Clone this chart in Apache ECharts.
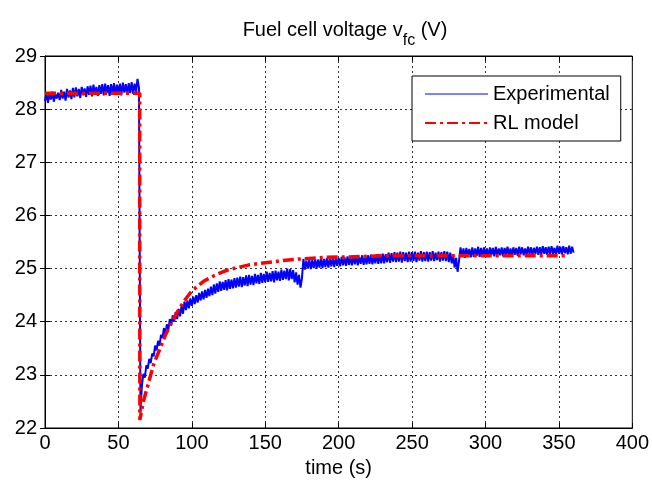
<!DOCTYPE html>
<html>
<head>
<meta charset="utf-8">
<title>Fuel cell voltage</title>
<script src="https://cdn.jsdelivr.net/npm/echarts@6/dist/echarts.min.js"></script>
<style>
    html, body { margin: 0; padding: 0; background: #fff; }
    .chart { width: 652px; height: 485px; }
</style>
</head>
<body>
<div class="chart"></div>
<script>
// measured voltage, one sample per second starting at t = 0 s
var expStart = 0;
var expValues = [
    28.15, 28.3, 28.12, 28.28, 28.18, 28.33, 28.14, 28.29, 28.2, 28.31,      // 0-9
    28.17, 28.36, 28.2, 28.33, 28.16, 28.38, 28.22, 28.35, 28.19, 28.4,      // 10-19
    28.22, 28.41, 28.24, 28.38, 28.21, 28.42, 28.26, 28.39, 28.23, 28.43,    // 20-29
    28.27, 28.44, 28.24, 28.46, 28.28, 28.42, 28.25, 28.45, 28.29, 28.47,    // 30-39
    28.26, 28.48, 28.3, 28.45, 28.25, 28.47, 28.29, 28.49, 28.27, 28.46,     // 40-49
    28.3, 28.48, 28.26, 28.5, 28.31, 28.47, 28.28, 28.49, 28.3, 28.51,       // 50-59
    28.29, 28.48, 28.32, 28.57, 28.4,                                        // 60-64
    22.3,                                                                    // 65
    22.8, 23.02, 22.95, 23.18,                                               // 66-69
    23.12, 23.3, 23.22, 23.4, 23.35, 23.55, 23.46, 23.64, 23.55, 23.75,      // 70-79
    23.7, 23.88, 23.76, 23.95, 23.85, 24.05, 23.94, 24.12, 24.0, 24.18,      // 80-89
    24.05, 24.24, 24.1, 24.3, 24.15, 24.38, 24.22, 24.4, 24.25, 24.44,       // 90-99
    24.3, 24.47, 24.33, 24.5, 24.36, 24.54, 24.4, 24.57, 24.42, 24.6,        // 100-109
    24.45, 24.62, 24.48, 24.66, 24.5, 24.7, 24.53, 24.72, 24.56, 24.76,      // 110-119
    24.58, 24.75, 24.6, 24.78, 24.59, 24.8, 24.62, 24.79, 24.63, 24.82,      // 120-129
    24.64, 24.83, 24.66, 24.85, 24.65, 24.84, 24.68, 24.87, 24.67, 24.88,    // 130-139
    24.7, 24.86, 24.69, 24.9, 24.72, 24.88, 24.71, 24.92, 24.73, 24.9,       // 140-149
    24.74, 24.94, 24.75, 24.92, 24.76, 24.95, 24.74, 24.96, 24.78, 24.94,    // 150-159
    24.77, 24.98, 24.79, 24.96, 24.8, 25.0, 24.78, 24.99, 24.8, 24.97,       // 160-169
    24.74, 24.93, 24.7, 24.88, 24.64, 24.82,                                 // 170-175
    25.18, 24.98, 25.15, 25.0,                                               // 176-179
    25.17, 24.99, 25.16, 25.01, 25.18, 25.0, 25.17, 25.02, 25.19, 25.01,     // 180-189
    25.18, 25.03, 25.2, 25.02, 25.19, 25.04, 25.2, 25.03, 25.21, 25.05,      // 190-199
    25.2, 25.04, 25.22, 25.06, 25.21, 25.05, 25.23, 25.07, 25.22, 25.06,     // 200-209
    25.23, 25.08, 25.24, 25.06, 25.22, 25.09, 25.25, 25.07, 25.24, 25.08,    // 210-219
    25.25, 25.09, 25.26, 25.08, 25.24, 25.1, 25.27, 25.09, 25.26, 25.1,      // 220-229
    25.28, 25.1, 25.27, 25.12, 25.3, 25.11, 25.29, 25.13, 25.31, 25.12,      // 230-239
    25.3, 25.13, 25.32, 25.11, 25.31, 25.14, 25.3, 25.12, 25.32, 25.13,      // 240-249
    25.31, 25.14, 25.32, 25.12, 25.3, 25.15, 25.33, 25.13, 25.31, 25.14,     // 250-259
    25.32, 25.13, 25.31, 25.15, 25.33, 25.14, 25.3, 25.16, 25.32, 25.13,     // 260-269
    25.31, 25.15, 25.33, 25.14, 25.32, 25.12, 25.3, 25.1,                    // 270-277
    25.25, 25.02, 25.2, 24.94, 25.15,                                        // 278-282
    25.4, 25.22, 25.38, 25.2, 25.39, 25.23, 25.37,                           // 283-289
    25.21, 25.4, 25.22, 25.38, 25.24, 25.41, 25.22, 25.39, 25.23, 25.4,      // 290-299
    25.24, 25.38, 25.22, 25.4, 25.25, 25.39, 25.23, 25.41, 25.24, 25.38,     // 300-309
    25.25, 25.4, 25.23, 25.39, 25.26, 25.41, 25.24, 25.38, 25.25, 25.4,      // 310-319
    25.26, 25.39, 25.24, 25.41, 25.27, 25.4, 25.25, 25.38, 25.26, 25.41,     // 320-329
    25.27, 25.4, 25.25, 25.39, 25.28, 25.41, 25.26, 25.4, 25.27, 25.42,      // 330-339
    25.28, 25.4, 25.26, 25.41, 25.27, 25.42, 25.28, 25.39, 25.26, 25.43,     // 340-349
    25.28, 25.41, 25.27, 25.42, 25.29, 25.4, 25.27, 25.43, 25.28, 25.41, 25.3 // 350-360
];
// RL model response
var modelTime = [0, 64.5, 64.6, 67, 71, 74, 78, 82, 87, 90, 95, 100, 108, 116, 125, 139, 150, 162, 173, 190, 207, 230, 260, 300, 356];
var modelValues = [28.3, 28.3, 22.15, 22.5, 22.9, 23.2, 23.47, 23.75, 24.03, 24.18, 24.4, 24.58, 24.76, 24.88, 24.98, 25.07, 25.11, 25.15, 25.18, 25.21, 25.22, 25.24, 25.24, 25.24, 25.24];

(function() {
    var font = "Liberation Sans";
    var myChart = echarts.init(document.querySelector(".chart"));

    var expData = expValues.map(function(v, i) {
        return [expStart + i, v];
    });
    var modelData = modelTime.map(function(t, i) {
        return [t, modelValues[i]];
    });

    // dotted matlab-like grid
    var gridLine = { show: true, lineStyle: { color: "#333", width: 1, type: [2, 3] } };
    var blackLine = { show: true, lineStyle: { color: "#000", width: 1 } };
    var inTick = { show: true, inside: true, length: 5, lineStyle: { color: "#000" } };

    var option = {
        animation: false,
        backgroundColor: "#fff",
        title: {
            text: "{a|Fuel cell voltage v}{b|fc}{a| (V)}",
            left: 340,
            textAlign: "center",
            top: 6,
            textStyle: {
                fontWeight: "normal",
                rich: {
                    a: { fontSize: 20, fontFamily: font, color: "#000", fontWeight: "normal" },
                    b: { fontSize: 16, fontFamily: font, color: "#000", fontWeight: "normal", padding: [22, 0, 0, 0] }
                }
            }
        },
        legend: {
            left: 412,
            top: 76,
            orient: "vertical",
            padding: [8, 11, 8, 12],
            itemGap: 9,
            itemWidth: 63,
            itemHeight: 20,
            borderColor: "#000",
            borderWidth: 1,
            borderRadius: 0,
            backgroundColor: "#fff",
            // hide the marker circle, keep the line sample
            itemStyle: { opacity: 0 },
            textStyle: { fontSize: 20, fontFamily: font, color: "#000" },
            data: [
                { name: "Experimental", lineStyle: { width: 1 } },
                { name: "RL model" }
            ]
        },
        grid: {
            left: 45,
            right: 17,
            top: 56,
            bottom: 57,
            show: true,
            borderColor: "#000",
            borderWidth: 1,
            backgroundColor: "#fff"
        },
        xAxis: [{
            type: "value",
            min: 0,
            max: 400,
            interval: 50,
            name: "time (s)",
            nameLocation: "middle",
            nameGap: 30,
            nameTextStyle: { fontSize: 20, fontFamily: font, color: "#000" },
            axisLine: blackLine,
            axisTick: inTick,
            axisLabel: { fontSize: 20, fontFamily: font, color: "#000", margin: 5 },
            splitLine: gridLine
        }, {
            type: "value",
            position: "top",
            min: 0,
            max: 400,
            interval: 50,
            axisLine: blackLine,
            axisTick: inTick,
            axisLabel: { show: false },
            splitLine: { show: false }
        }],
        yAxis: [{
            type: "value",
            min: 22,
            max: 29,
            interval: 1,
            axisLine: blackLine,
            axisTick: inTick,
            axisLabel: { fontSize: 20, fontFamily: font, color: "#000", margin: 8 },
            splitLine: gridLine
        }, {
            type: "value",
            position: "right",
            min: 22,
            max: 29,
            interval: 1,
            axisLine: blackLine,
            axisTick: inTick,
            axisLabel: { show: false },
            splitLine: { show: false }
        }],
        series: [{
            name: "Experimental",
            type: "line",
            data: expData,
            symbol: "none",
            lineStyle: { color: "#0000ff", width: 2 },
            itemStyle: { color: "#0000ff" }
        }, {
            name: "RL model",
            type: "line",
            data: modelData,
            symbol: "none",
            lineStyle: { color: "#ff0000", width: 3.5, type: [11, 4, 3, 4] },
            itemStyle: { color: "#ff0000" }
        }]
    };

    myChart.setOption(option);
    window.addEventListener("resize", function() {
        myChart.resize();
    });
})();
</script>
</body>
</html>
